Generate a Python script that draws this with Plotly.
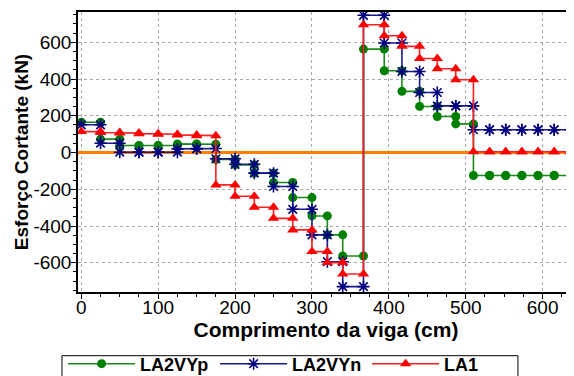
import plotly.graph_objects as go

# Node positions along the beam (cm)
x_nodes = [0, 25, 50, 75, 100, 125, 150, 175, 200, 225, 250, 275, 300, 320, 340, 367,
           394, 417, 440, 463, 487, 510, 531, 552, 573, 594, 615, 636]

# Shear force per segment (kN), segment i spans x_nodes[i] .. x_nodes[i+1]
la2vyp = [165, 73, 38, 38, 38, 47, 45, -38, -67, -112, -163, -245, -345, -448, -563,
          563, 445, 333, 251, 196, 156, -125, -125, -125, -125, -125, -125]
la2vyn = [151, 51, 2, 2, 2, 20, 22, -34, -64, -112, -185, -309, -448, -594, -730,
          747, 596, 441, 327, 254, 254, 124, 124, 124, 124, 124, 124]
la1 = [114, 109, 106, 103, 100, 96, 92, -176, -238, -298, -358, -421, -539, -599, -661,
       696, 636, 578, 512, 456, 396, 4, 4, 4, 4, 4, 4]

x_ticks = [0, 100, 200, 300, 400, 500, 600]
y_ticks = [-600, -400, -200, 0, 200, 400, 600]


def steps(values):
    xs, ys = [], []
    for i, v in enumerate(values):
        xs += [x_nodes[i], x_nodes[i + 1]]
        ys += [v, v]
    return xs, ys


FONT = "Liberation Sans, Arial, sans-serif"

fig = go.Figure()

series = [
    ("LA2VYp", la2vyp, "#1a8a1a", "#008000", "circle", 9),
    ("LA2VYn", la2vyn, "#1a1a90", "#000080", "asterisk-open", 10),
    ("LA1", la1, "#ff2020", "#ff0000", "triangle-up", 10),
]
for name, vals, lc, mc, sym, size in series:
    xs, ys = steps(vals)
    fig.add_trace(go.Scatter(
        x=xs, y=ys, name=name, mode="lines+markers",
        line=dict(color=lc, width=1.6),
        marker=dict(symbol=sym, size=size, color=mc,
                    line=dict(color=mc, width=1.6 if sym == "asterisk-open" else 0)),
    ))

fig.update_layout(
    width=574, height=376,
    margin=dict(l=70, r=8, t=4, b=92, autoexpand=False),
    paper_bgcolor="white", plot_bgcolor="white",
    font=dict(family=FONT, color="black", size=19),
    legend=dict(
        orientation="h", x=-0.03, y=-0.191, xanchor="left", yanchor="top",
        borderwidth=0, bgcolor="rgba(0,0,0,0)",
        font=dict(family=FONT, size=18, weight="bold", color="black"),
        entrywidth=70, entrywidthmode="pixels",
        tracegroupgap=0, itemwidth=67,
    ),
    showlegend=True,
    shapes=[dict(type="rect", xref="paper", yref="paper",
                 x0=-0.0323, x1=0.887, y0=-0.2275, y1=-0.36,
                 line=dict(color="black", width=1), fillcolor="rgba(0,0,0,0)")],
)

fig.update_xaxes(
    range=[-4.3, 640.8], automargin=False,
    tickvals=x_ticks, ticktext=[str(v) for v in x_ticks],
    showline=True, linecolor="black", linewidth=1.5, mirror=True,
    ticks="outside", ticklen=5, tickcolor="black", ticklabelstandoff=-8,
    minor=dict(dtick=25, tick0=0, ticks="outside", ticklen=3, tickcolor="black", showgrid=False),
    showgrid=True, gridcolor="#a8a8a8", griddash="dot", gridwidth=1,
    zeroline=False,
    tickfont=dict(size=19, family=FONT, color="black"),
    title=dict(text="Comprimento da viga (cm)", standoff=0,
               font=dict(size=21, family=FONT, weight="bold", color="black")),
)
fig.update_yaxes(
    range=[-759, 765], automargin=False,
    tickvals=y_ticks, ticktext=[str(v) for v in y_ticks],
    showline=True, linecolor="black", linewidth=1.5,
    ticks="outside", ticklen=5, tickcolor="black", ticklabelstandoff=-4,
    minor=dict(dtick=50, tick0=0, ticks="outside", ticklen=3, tickcolor="black", showgrid=False),
    showgrid=True, gridcolor="#a8a8a8", griddash="dot", gridwidth=1,
    zeroline=True, zerolinecolor="#ff8000", zerolinewidth=3,
    tickfont=dict(size=19, family=FONT, color="black"),
    title=dict(text="Esforço Cortante (kN)", standoff=0,
               font=dict(size=19, family=FONT, weight="bold", color="black")),
)

fig.write_html("out.html")
